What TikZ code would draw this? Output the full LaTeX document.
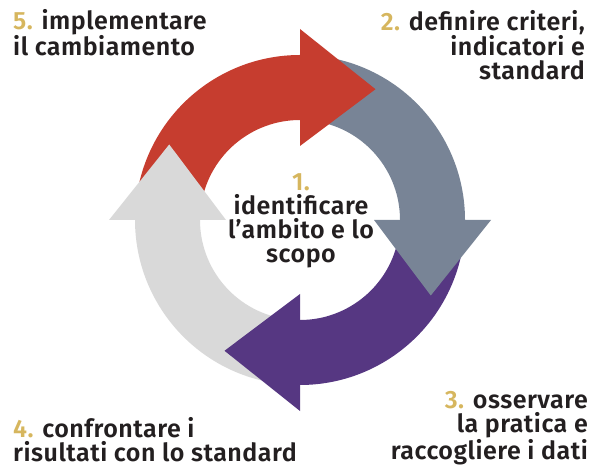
\documentclass[tikz,border=0pt]{standalone}
\usepackage{fontspec}
\setmainfont{Fira Sans}[UprightFont={* SemiBold},BoldFont={* Bold},LetterSpace=2]
\definecolor{cRed}{HTML}{C63D2F}
\definecolor{cSlate}{HTML}{788496}
\definecolor{cPurple}{HTML}{563782}
\definecolor{cLight}{HTML}{D9D9D9}
\definecolor{cGold}{HTML}{D6B65E}
\definecolor{cText}{HTML}{231F20}
\newcommand{\num}[1]{{\color{cGold}#1}}
\tikzset{
  lbl/.style={text=cText,font=\fontsize{25}{24}\selectfont,inner sep=0pt},
}
\newcommand{\arrowbody}[3]{%
  \fill[#3] (#1:165pt) arc[start angle=#1,end angle=#2,radius=165pt] -- (#2:100pt) arc[start angle=#2,end angle=#1,radius=100pt] -- cycle;}
\newcommand{\arrowhead}[3]{%
  \fill[#3] (#1:74pt) -- (#1:191pt) -- (#2:151pt) -- cycle;}
\begin{document}
\begin{tikzpicture}[x=1pt,y=1pt]
\useasboundingbox (0,0) rectangle (596,468);
\coordinate (c) at (300,248);
\begin{scope}[shift={(c)}]
  \arrowbody{170}{90}{cRed}
  \arrowbody{80}{0}{cSlate}
  \arrowbody{-10}{-90}{cPurple}
  \arrowbody{260}{180}{cLight}
  \arrowhead{90}{60}{cRed}
  \arrowhead{0}{-30}{cSlate}
  \arrowhead{-90}{-120}{cPurple}
  \arrowhead{180}{150}{cLight}
\end{scope}
\node[lbl,anchor=base west,align=left] (t5) at (13,412) {\num{5.} implementare\\il cambiamento};
\node[lbl,anchor=base east,align=right] (t2) at (585,388) {\num{2.} definire criteri,\\indicatori e\\standard};
\node[lbl,anchor=base,align=center] (t1) at (301,205) {\num{1.}\\identificare\\l’ambito e lo\\scopo};
\node[lbl,anchor=base west,align=left] (t4) at (13,7) {\num{4.} confrontare i\\risultati con lo standard};
\node[lbl,anchor=base east,align=right] (t3) at (588,9) {\num{3.} osservare\\la pratica e\\raccogliere i dati};
\end{tikzpicture}
\end{document}
